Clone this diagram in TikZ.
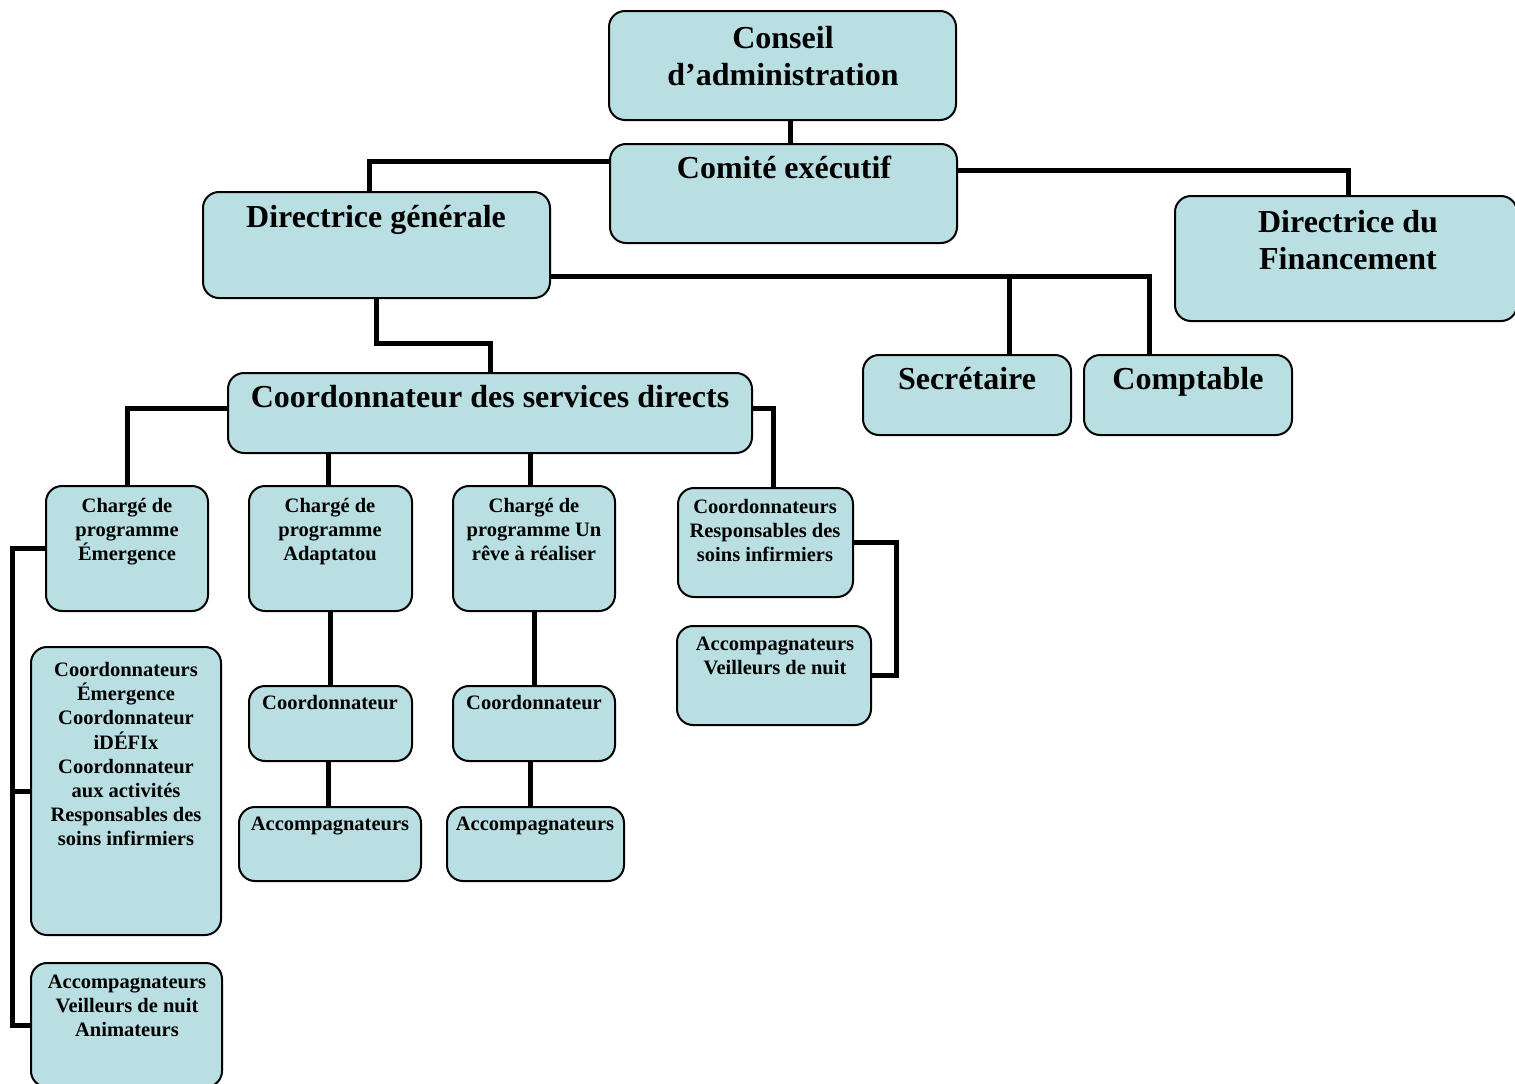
\documentclass[tikz,border=0pt]{standalone}
\usepackage{fontspec}
\setmainfont{Liberation Serif}
\usetikzlibrary{calc}
\pgfdeclarelayer{bg}
\pgfsetlayers{bg,main}
\definecolor{boxc}{RGB}{185,223,226}
\newcommand\ml[1]{\begin{tabular}[t]{@{}c@{}}#1\end{tabular}}
\newcommand\mkbox[5]{\node[orgbox, minimum width={#4-#2}, minimum height={#5-#3}] (#1) at ({(#2+#4)/2},{(#3+#5)/2}) {};}
\tikzset{
  orgbox/.style={draw=black, line width=2pt, rounded corners=16pt, fill=boxc, inner sep=0pt, outer sep=0pt},
  conn/.style={draw=black, line width=5pt},
  bigtxt/.style={anchor=base, inner sep=0pt, font=\fontsize{32}{37}\selectfont\bfseries},
  smalltxt/.style={anchor=base, inner sep=0pt, font=\fontsize{20.5}{24}\selectfont\bfseries},
}
\begin{document}
\begin{tikzpicture}[x=1pt,y=-1pt]
\useasboundingbox (0,0) rectangle (1515,1084);
\clip (0,0) rectangle (1515,1084);
% boxes
\mkbox{ca}{609}{11}{956}{120}
\mkbox{ce}{610}{144}{957}{243}
\mkbox{dg}{203}{192}{550}{298}
\mkbox{df}{1175}{196}{1517}{321}
\mkbox{sc}{863}{355}{1071}{435}
\mkbox{cp}{1084}{355}{1292}{435}
\mkbox{cs}{228}{373}{752}{453}
\mkbox{ceA}{46}{486}{208}{611}
\mkbox{ad}{249}{486}{412}{611}
\mkbox{rv}{453}{486}{615}{611}
\mkbox{cr}{678}{488}{853}{597}
\mkbox{av}{677}{626}{871}{725}
\mkbox{coA}{249}{686}{412}{761}
\mkbox{coB}{453}{686}{615}{761}
\mkbox{acA}{239}{807}{421}{881}
\mkbox{acB}{447}{807}{624}{881}
\mkbox{ecx}{31}{647}{221}{935}
\mkbox{ab}{31}{963}{222}{1087}
% text
\node[bigtxt] (tca) at (783,48) {\ml{Conseil\\d’administration}};
\node[bigtxt] (tce) at (784,178) {\ml{Comité exécutif}};
\node[bigtxt] (tdg) at (376,227) {\ml{Directrice générale}};
\node[bigtxt] (tdf) at (1348,232) {\ml{Directrice du\\Financement}};
\node[bigtxt] (tsc) at (967,389) {\ml{Secrétaire}};
\node[bigtxt] (tcp) at (1188,389) {\ml{Comptable}};
\node[bigtxt] (tcs) at (490,407) {\ml{Coordonnateur des services directs}};
\node[smalltxt] (tceA) at (127,512) {\ml{Chargé de\\programme\\Émergence}};
\node[smalltxt] (tad) at (330,512) {\ml{Chargé de\\programme\\Adaptatou}};
\node[smalltxt] (trv) at (534,512) {\ml{Chargé de\\programme Un\\rêve à réaliser}};
\node[smalltxt] (tcr) at (765,513) {\ml{Coordonnateurs\\Responsables des\\soins infirmiers}};
\node[smalltxt] (tav) at (775,650) {\ml{Accompagnateurs\\Veilleurs de nuit}};
\node[smalltxt] (tcoA) at (330,709) {\ml{Coordonnateur}};
\node[smalltxt] (tcoB) at (534,709) {\ml{Coordonnateur}};
\node[smalltxt] (tacA) at (330,830) {\ml{Accompagnateurs}};
\node[smalltxt] (tacB) at (535,830) {\ml{Accompagnateurs}};
\node[smalltxt] (tecx) at (126,676) {\ml{Coordonnateurs\\Émergence\\Coordonnateur\\iDÉFIx\\Coordonnateur\\aux activités\\Responsables des\\soins infirmiers}};
\node[smalltxt] (tab) at (127,988) {\ml{Accompagnateurs\\Veilleurs de nuit\\Animateurs}};
% connectors
\begin{pgfonlayer}{bg}
\draw[conn] ([xshift=8]ca.south) -- ([xshift=8]ca.south |- ce.north);
\draw[conn] ([yshift=32.5]ce.west) -| ([xshift=-7.5]dg.north);
\draw[conn] ([yshift=23.5]ce.east) -| ([xshift=2]df.north);
\draw[conn] ([yshift=-31]dg.east) -| ([xshift=-39]cp.north);
\draw[conn] ([xshift=42]sc.north) |- ([yshift=-31]dg.east);
\draw[conn] (dg.south) -- ++(0,45) -| (cs.north);
\draw[conn] ([yshift=5]cs.west) -| (ceA.north);
\draw[conn] ([yshift=5]cs.east) -| ([xshift=7.5]cr.north);
\draw[conn] ([xshift=-2.5]ad.north) -- ([xshift=-2.5]ad.north |- cs.south);
\draw[conn] ([xshift=-4]rv.north) -- ([xshift=-4]rv.north |- cs.south);
\draw[conn] (cr.east) -- ++(43,0) |- (av.east);
\draw[conn] (ceA.west) -- ++(-34,0) |- (ab.west);
\draw[conn] (ecx.west) -- ++(-19,0);
\draw[conn] (ad.south) -- (ad.south |- coA.north);
\draw[conn] ([xshift=-2.5]coA.south) -- ([xshift=-2.5]coA.south |- acA.north);
\draw[conn] (rv.south) -- (rv.south |- coB.north);
\draw[conn] ([xshift=-4]coB.south) -- ([xshift=-4]coB.south |- acB.north);
\end{pgfonlayer}
\end{tikzpicture}
\end{document}
